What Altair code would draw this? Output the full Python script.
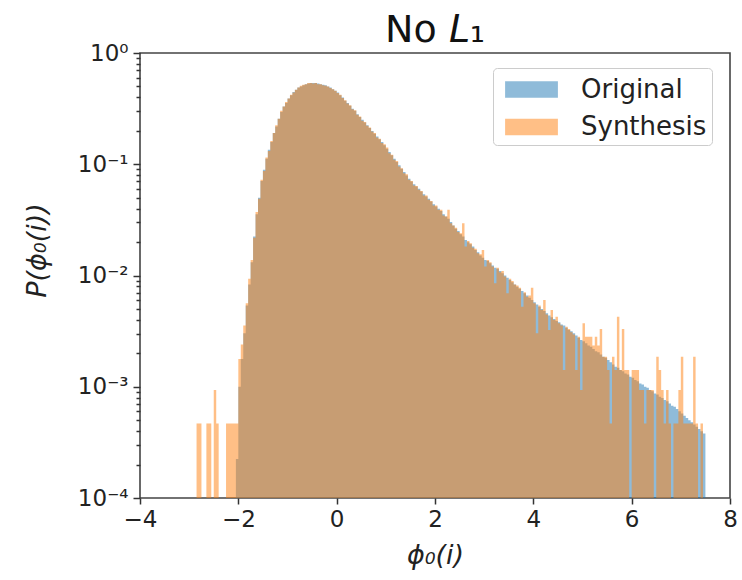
import altair as alt
import pandas as pd

# ---- data (log10 of bin density), bins of width 0.05 ----
BIN_W = 0.05
ORIG_START = -2.05   # left edge of the first "Original" bin
SYN_START = -2.85    # left edge of the first "Synthesis" bin
FLOOR = 1e-4         # bottom of the log axis, where the bars start

series_names = ["Original", "Synthesis"]
series_colors = ["#1f77b4", "#ff7f0e"]

orig_log10 = [
    # -2.05 .. -1.05
    -3.65, -3.0, -2.75, -2.52, -2.27, -2.08, -1.88, -1.65, -1.45, -1.30,
    -1.15, -1.05, -0.95, -0.87, -0.80, -0.72, -0.66, -0.59, -0.53, -0.48,
    # -1.05 .. -0.05
    -0.45, -0.41, -0.38, -0.35, -0.33, -0.31, -0.30, -0.29, -0.28, -0.275,
    -0.27, -0.27, -0.27, -0.275, -0.28, -0.285, -0.29, -0.30, -0.31, -0.325,
    # -0.05 .. 1.0
    -0.34, -0.355, -0.38, -0.40, -0.43, -0.45, -0.475, -0.50, -0.52, -0.55,
    -0.575, -0.60, -0.625, -0.65, -0.675, -0.70, -0.725, -0.75, -0.775, -0.80, -0.83,
    # 1 .. 2
    -0.86, -0.89, -0.92, -0.95, -0.98, -1.01, -1.04, -1.07, -1.10, -1.13,
    -1.155, -1.18, -1.20, -1.22, -1.245, -1.27, -1.29, -1.31, -1.335, -1.36,
    # 2 .. 3
    -1.38, -1.40, -1.42, -1.45, -1.47, -1.49, -1.52, -1.55, -1.58, -1.60,
    -1.63, -1.65, -1.68, -1.70, -1.72, -1.74, -1.77, -1.79, -1.82, -1.84,
    # 3 .. 4
    -1.86, -1.87, -1.89, -1.91, -1.93, -1.94, -1.96, -1.98, -2.00, -2.02,
    -2.04, -2.06, -2.08, -2.10, -2.12, -2.14, -2.16, -2.18, -2.20, -2.22,
    # 4 .. 5
    -2.24, -2.26, -2.28, -2.30, -2.32, -2.34, -2.36, -2.375, -2.39, -2.41,
    -2.42, -2.44, -2.45, -2.47, -2.49, -2.50, -2.52, -2.54, -2.56, -2.58,
    # 5 .. 6
    -2.59, -2.61, -2.63, -2.64, -2.66, -2.68, -2.69, -2.71, -2.73, -2.74,
    -2.76, -2.78, -2.80, -2.82, -2.83, -2.85, -2.86, -2.88, -2.89, -2.91,
    # 6 .. 7
    -2.92, -2.94, -2.95, -2.97, -2.98, -3.00, -3.01, -3.03, -3.04, -3.06,
    -3.07, -3.09, -3.10, -3.12, -3.13, -3.15, -3.17, -3.18, -3.20, -3.22,
    # 7 .. 7.5
    -3.24, -3.26, -3.28, -3.30, -3.32, -3.34, -3.36, -3.38, -3.40, -3.42,
]

syn_log10 = [
    # -2.85 .. -2.05 (None = empty bin)
    -3.33, -3.33, None, None, -3.33, -3.33, None, -3.03, -3.33, None,
    None, None, -3.33, -3.33, -3.33, -3.33,
    # -2.05 .. -1.05
    -3.33, -2.75, -2.62, -2.45, -2.25, -2.03, -1.86, -1.66, -1.43, -1.31,
    -1.14, -1.06, -0.94, -0.88, -0.79, -0.72, -0.65, -0.59, -0.52, -0.48,
    # -1.05 .. -0.05
    -0.44, -0.41, -0.375, -0.355, -0.33, -0.31, -0.295, -0.285, -0.28, -0.27,
    -0.27, -0.275, -0.27, -0.28, -0.28, -0.29, -0.295, -0.30, -0.315, -0.325,
    # -0.05 .. 1.0
    -0.34, -0.36, -0.375, -0.405, -0.425, -0.455, -0.47, -0.505, -0.515, -0.555,
    -0.57, -0.61, -0.62, -0.655, -0.67, -0.705, -0.72, -0.76, -0.77, -0.81, -0.82,
    # 1 .. 2
    -0.85, -0.90, -0.915, -0.96, -0.97, -1.02, -1.035, -1.08, -1.09, -1.14,
    -1.15, -1.19, -1.195, -1.23, -1.24, -1.28, -1.28, -1.32, -1.33, -1.37,
    # 2 .. 3
    -1.37, -1.41, -1.41, -1.46, -1.47, -1.41, -1.53, -1.55, -1.57, -1.61,
    -1.62, -1.53, -1.74, -1.69, -1.71, -1.75, -1.76, -1.80, -1.81, -1.77,
    # 3 .. 4
    -1.92, -1.86, -1.88, -1.92, -2.07, -1.93, -1.97, -1.96, -2.01, -2.16,
    -2.03, -2.05, -2.08, -2.09, -2.11, -2.28, -2.15, -2.19, -2.18, -2.11,
    # 4 .. 5
    -2.25, -2.52, -2.27, -2.31, -2.22, -2.35, -2.49, -2.31, -2.40, -2.37,
    -2.43, -2.45, -2.85, -2.46, -2.48, -2.51, -2.53, -2.85, -2.55, -3.03,
    # 5 .. 6
    -2.43, -2.55, -2.55, -2.55, -2.63, -2.55, -2.63, -2.48, -2.73, -2.73,
    -2.85, -3.33, -2.73, -2.85, -2.37, -2.85, -2.48, -2.85, -2.85, None,
    # 6 .. 7
    -2.85, -2.85, -2.85, -3.03, -3.03, -3.33, -3.03, -3.03, -3.03, None,
    -2.73, -2.85, -3.03, -3.33, -3.03, -3.33, None, -3.33, -3.33, -3.03,
    # 7 .. 7.5
    -2.73, -3.33, -3.33, -3.33, -3.33, -2.73, -3.33, None, -3.33, None,
]

x_ticks = [-4, -2, 0, 2, 4, 6, 8]
y_major = [1e-4, 1e-3, 1e-2, 1e-1, 1.0]
y_minor = [m * 10.0 ** e for e in range(-4, 0) for m in range(2, 10)]

# Each histogram is drawn as one stepped outline per run of non-empty bins
# (one area path per run avoids seams between adjacent semi-transparent bars).
rows = []
for name, start, vals in [(series_names[0], ORIG_START, orig_log10),
                          (series_names[1], SYN_START, syn_log10)]:
    seg = 0
    for i, v in enumerate(vals):
        if v is None:
            seg += 1
            continue
        x0 = round(start + i * BIN_W, 4)
        p = 10 ** v
        for xx in (x0, round(x0 + BIN_W, 4)):
            rows.append({"series": name, "seg": f"{name}_{seg}",
                         "xv": xx, "p": p, "base": FLOOR})
df = pd.DataFrame(rows)

FONT = "DejaVu Sans"

major_test = ("datum.value == 1 || datum.value == 0.1 || datum.value == 0.01 || "
              "datum.value == 0.001 || datum.value == 0.0001")
y_label_expr = ("datum.value == 1 ? '10⁰' : datum.value == 0.1 ? '10⁻¹' : "
                "datum.value == 0.01 ? '10⁻²' : datum.value == 0.001 ? '10⁻³' : "
                "datum.value == 0.0001 ? '10⁻⁴' : ''")

chart = alt.Chart(df).mark_area(opacity=0.5, interpolate="linear", orient="vertical").encode(
    x=alt.X("xv:Q",
            scale=alt.Scale(domain=[-4, 8], nice=False, zero=False),
            axis=alt.Axis(values=x_ticks, title="ϕ₀(i)", titleFontStyle="italic",
                          labelFlush=False, tickSize=6, labelPadding=4, titlePadding=11)),
    y=alt.Y("p:Q",
            scale=alt.Scale(type="log", domain=[1e-4, 1], nice=False),
            stack=None,
            axis=alt.Axis(values=y_major + y_minor, labelExpr=y_label_expr,
                          labelOverlap=False, labelFlush=False,
                          tickSize={"condition": {"test": major_test, "value": 7}, "value": 4},
                          title="P(ϕ₀(i))", titleFontStyle="italic", titleY=197,
                          labelPadding=5, titlePadding=26)),
    y2="base:Q",
    color=alt.Color("series:N",
                    scale=alt.Scale(domain=series_names, range=series_colors),
                    legend=alt.Legend(title=None, orient="none", legendX=353, legendY=15,
                                      symbolType="M-1.6,-0.5H1.6V0.5H-1.6Z", symbolSize=1089,
                                      symbolOpacity=0.5, symbolStrokeWidth=0, symbolOffset=17,
                                      labelFontSize=26, labelFont=FONT, labelColor="#222",
                                      labelExpr="datum.label + '  '",
                                      labelOffset=33, rowPadding=7.5, padding=5,
                                      fillColor="white", strokeColor="#cccccc",
                                      cornerRadius=4)),
    detail="seg:N",
).properties(
    width=590, height=445,
    autosize="none",
    padding={"left": 140, "top": 53, "right": 12, "bottom": 82},
    title=alt.Title("No 𝘓₁", fontSize=38, font=FONT, fontWeight="normal",
                    color="#111", offset=2, dy=10, anchor="middle"),
).configure_axis(
    grid=False, domain=False,
    labelFont=FONT, labelFontSize=23, labelColor="#222",
    titleFont=FONT, titleFontSize=27, titleFontWeight="normal", titleColor="#222",
    tickColor="#333", tickWidth=1.5,
).configure_view(
    stroke="#444", strokeWidth=1.6,
)

chart.save("out.html", embed_options={"renderer": "svg", "actions": False})
